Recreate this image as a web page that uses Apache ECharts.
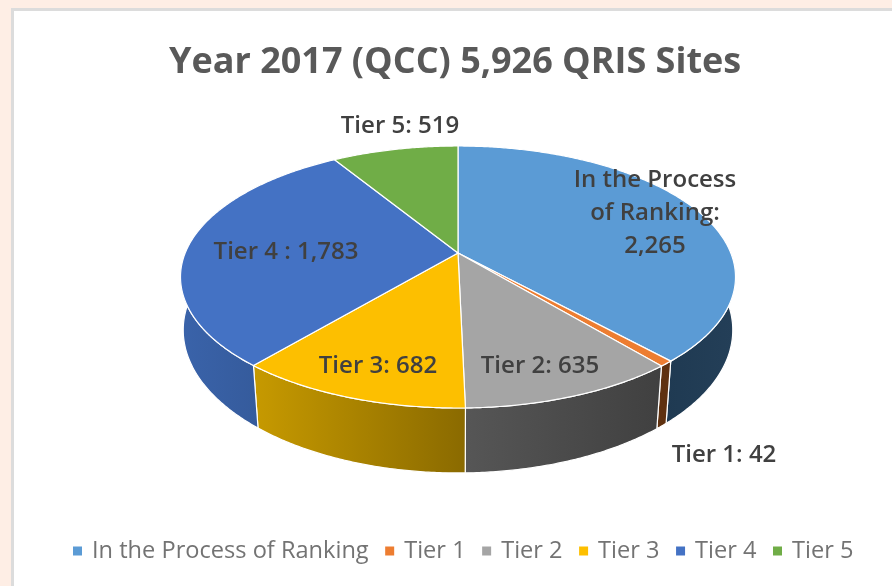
<!DOCTYPE html>
<html>
<head>
<meta charset="utf-8">
<title>Year 2017 (QCC) 5,926 QRIS Sites</title>
<script src="https://cdn.jsdelivr.net/npm/echarts@6/dist/echarts.min.js"></script>
<style>
  html, body { margin: 0; padding: 0; background: #feeee5; }
  #chart { width: 892px; height: 586px; }
</style>
</head>
<body>
<div id="chart"></div>
<script>
var categories = ['In the Process of Ranking', 'Tier 1', 'Tier 2', 'Tier 3', 'Tier 4', 'Tier 5'];
var values = [2265, 42, 635, 682, 1783, 519];
var labels = ['In the Process\nof Ranking:\n2,265', 'Tier 1: 42', 'Tier 2: 635', 'Tier 3: 682', 'Tier 4 : 1,783', 'Tier 5: 519'];
var topColors = ['#5b9bd5', '#ed7d31', '#a5a5a5', '#fdbf00', '#4472c4', '#70ad47'];
// wall shading, left to right
var wallColors = [
  ['#1f3a52', '#243f58'],
  ['#5f3110', '#5f3110'],
  ['#565656', '#404040'],
  ['#c79a00', '#8a6a00'],
  ['#3a63aa', '#355b9c'],
  ['#3d5e26', '#3d5e26']
];
// label centres, placed by hand like in the original
var labelPos = [[655, 213], [724, 455], [540, 366], [378, 366], [286, 252], [400, 126]];

// the tilted disc: the near side of the rim is drawn larger (k)
var topFace = { cx: 458, cy: 253, a: 272.8, b: 126.6, k: 0.1832 };
var bottomFace = { cx: 458, cy: 306.5, a: 271, b: 139, k: 0.165 };

var total = values.reduce(function (s, v) { return s + v; }, 0);

function rimPoint(face, deg) {
  var t = deg * Math.PI / 180;
  var u = Math.sin(t), v = -Math.cos(t), d = 1 - face.k * v;
  return [face.cx + face.a * u / d, face.cy + face.b * v / d];
}

function arc(face, from, to) {
  var pts = [];
  var n = Math.max(2, Math.ceil((to - from) * 2));
  for (var i = 0; i <= n; i++) {
    pts.push(rimPoint(face, from + (to - from) * i / n));
  }
  return pts;
}

function sliceRenderer(idx) {
  var before = values.slice(0, idx).reduce(function (s, v) { return s + v; }, 0);
  return function (params, api) {
    var start = before / total * 360;
    var end = start + api.value(0) / total * 360;
    var children = [];
    // only the front of the wall shows
    var wallFrom = Math.max(start, 85), wallTo = Math.min(end, 275);
    if (wallTo > wallFrom) {
      children.push({
        type: 'polygon',
        shape: { points: arc(topFace, wallFrom, wallTo).concat(arc(bottomFace, wallFrom, wallTo).reverse()) },
        style: {
          fill: new echarts.graphic.LinearGradient(0, 0, 1, 0, [
            { offset: 0, color: wallColors[idx][0] },
            { offset: 1, color: wallColors[idx][1] }
          ]),
          stroke: '#fff',
          lineWidth: 1.2
        }
      });
    }
    children.push({
      type: 'polygon',
      shape: { points: [[topFace.cx, topFace.cy]].concat(arc(topFace, start, end)) },
      style: { fill: topColors[idx], stroke: '#fff', lineWidth: 1.2, lineJoin: 'round' }
    });
    children.push({
      type: 'text',
      z2: 100,
      x: labelPos[idx][0],
      y: labelPos[idx][1],
      style: {
        text: labels[idx],
        fill: '#404040',
        font: '600 24px "Open Sans"',
        align: 'center',
        verticalAlign: 'middle',
        lineHeight: 33
      }
    });
    return { type: 'group', children: children };
  };
}

var series = categories.map(function (name, i) {
  return {
    name: name,
    type: 'custom',
    coordinateSystem: 'none',
    silent: true,
    itemStyle: { color: topColors[i] },
    renderItem: sliceRenderer(i),
    data: [[values[i]]]
  };
});

var myChart = echarts.init(document.getElementById('chart'), null, { renderer: 'canvas' });
myChart.setOption({
  animation: false,
  backgroundColor: '#feeee5',
  graphic: [{
    type: 'rect',
    z: -10,
    shape: { x: 12.5, y: 9.5, width: 900, height: 600 },
    style: { fill: '#fff', stroke: '#dcdcdc', lineWidth: 3 }
  }],
  title: {
    text: 'Year 2017 (QCC) 5,926 QRIS Sites',
    left: 164,
    top: 40,
    textStyle: { color: '#595959', fontFamily: 'Open Sans', fontWeight: 700, fontSize: 36 }
  },
  legend: {
    data: categories,
    left: 73,
    top: 539,
    padding: 0,
    icon: 'rect',
    itemWidth: 9,
    itemHeight: 9,
    itemGap: 16.5,
    selectedMode: false,
    textStyle: { color: '#737373', fontFamily: 'Open Sans', fontSize: 23.6, padding: [0, 0, 0, 5] }
  },
  series: series
});
</script>
</body>
</html>
